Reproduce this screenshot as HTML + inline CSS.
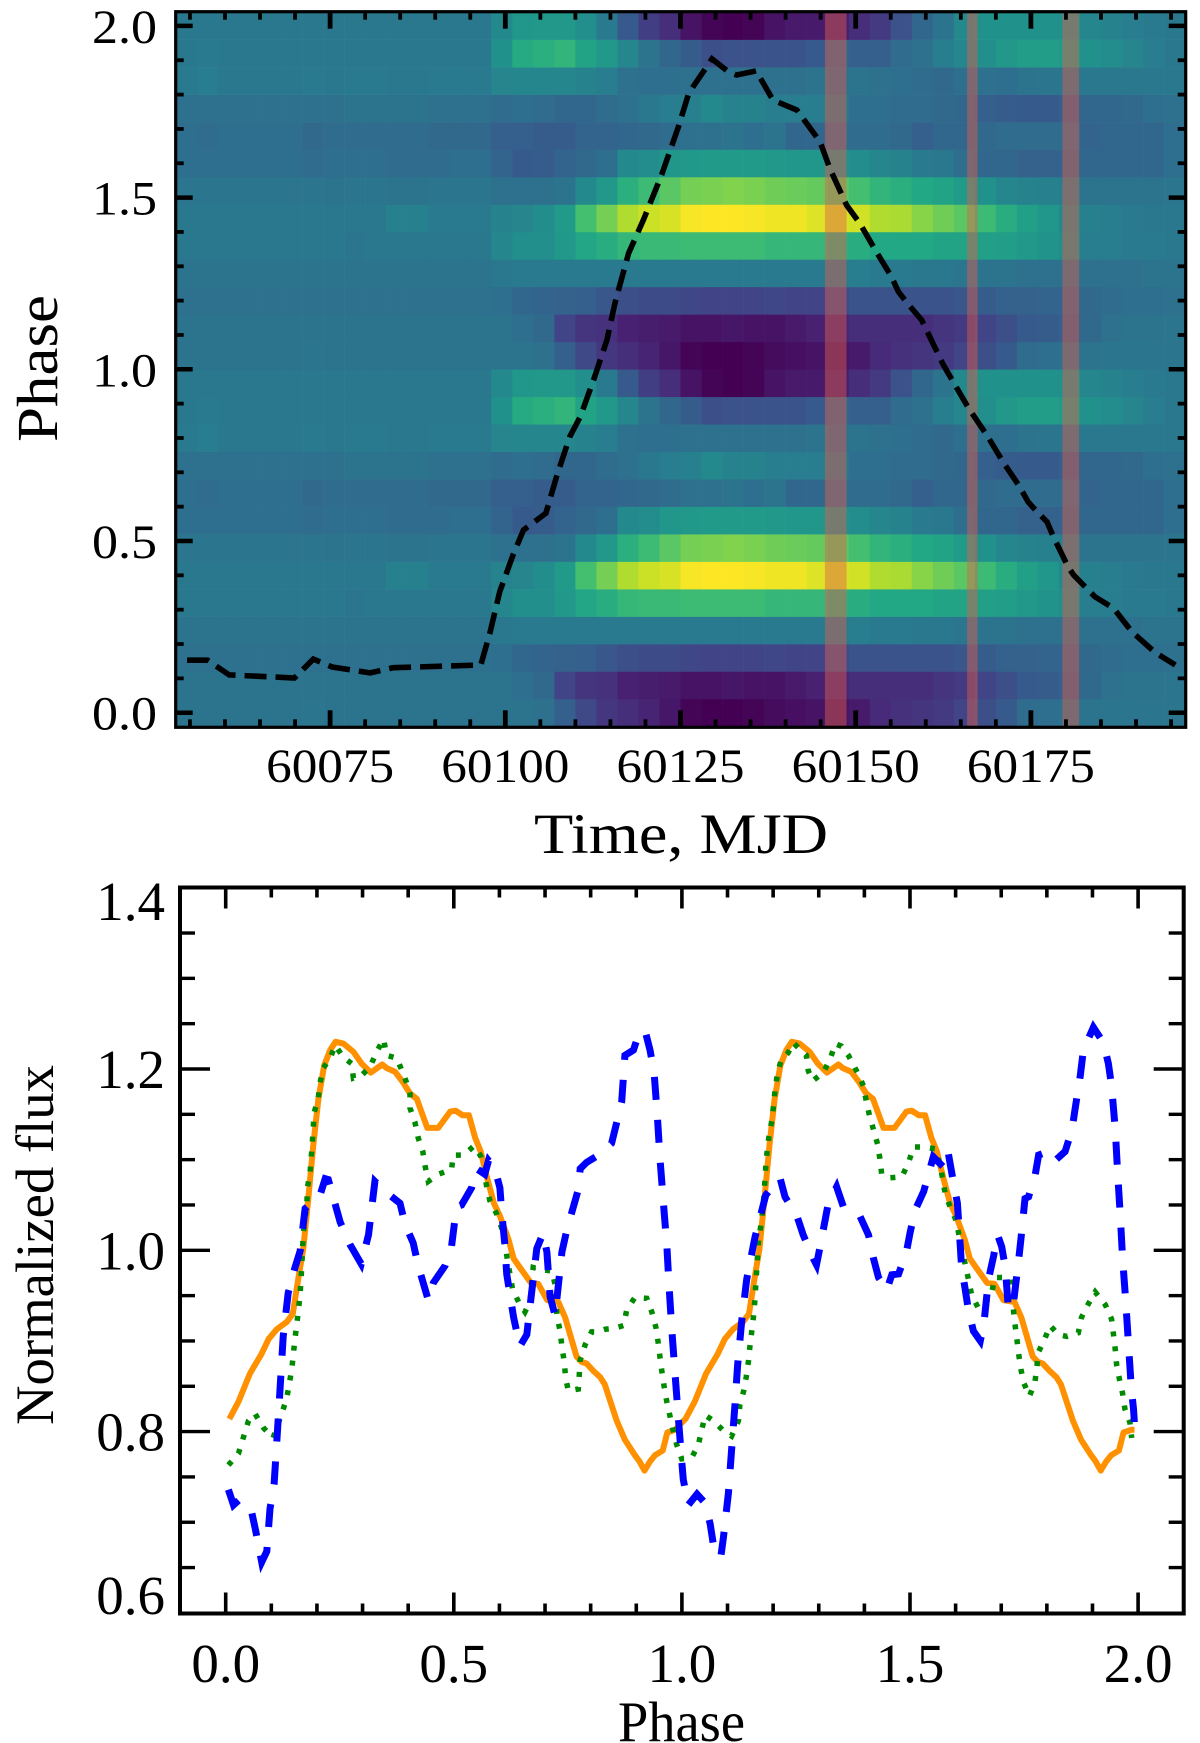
<!DOCTYPE html>
<html lang="en">
<head>
<meta charset="utf-8">
<title>Phase map and pulse profiles</title>
<style>
html,body{margin:0;padding:0;background:#fff;}
svg{display:block;}
text{font-family:"Liberation Serif","DejaVu Serif",serif;fill:#000;}
</style>
</head>
<body>
<svg id="figure" xmlns="http://www.w3.org/2000/svg" width="1200" height="1743" viewBox="0 0 1200 1743">
  <g id="top-panel">
    <g id="heatmap"></g>
    <g id="bands"></g>
    <path id="lightcurve" fill="none" stroke="#000" stroke-width="5.6" stroke-dasharray="22 9" stroke-linejoin="miter"></path>
    <g id="top-ticks"></g>
    <rect x="175.7" y="11.7" width="1010" height="715.6" fill="none" stroke="#000" stroke-width="3.2"></rect>
    <g id="top-labels"></g>
    <text transform="translate(57 442) rotate(-90)" font-size="58" textLength="147" lengthAdjust="spacingAndGlyphs">Phase</text>
    <text x="534" y="853" font-size="57" textLength="294" lengthAdjust="spacingAndGlyphs">Time, MJD</text>
  </g>
  <g id="bottom-panel">
    <path id="orange-line" fill="none" stroke="#ff9000" stroke-width="6" stroke-linejoin="round"></path>
    <path id="green-line" fill="none" stroke="#008a00" stroke-width="5.5" stroke-dasharray="5 10"></path>
    <path id="blue-line" fill="none" stroke="#0000ff" stroke-width="7" stroke-dasharray="23 20" stroke-linejoin="miter"></path>
    <g id="bottom-ticks"></g>
    <rect x="180" y="887.5" width="1003.7" height="726" fill="none" stroke="#000" stroke-width="4"></rect>
    <g id="bottom-labels"></g>
    <text transform="translate(53 1425) rotate(-90)" font-size="54" textLength="360" lengthAdjust="spacingAndGlyphs">Normalized flux</text>
    <text x="618" y="1741" font-size="57" textLength="127" lengthAdjust="spacingAndGlyphs">Phase</text>
  </g>
</svg>
<script>
/* ---------- top panel data ---------- */
const heatmapStartTime = 60053;
const heatmapBinDays = 3;
const heatmapBinPhase = 0.08;
const heatmapValues = [
[.38,.38,.38,.38,.38,.38,.39,.38,.38,.38,.38,.38,.38,.38,.38,.38,.38,.37,.30,.22,.16,.13,.10,.06,.01,0,0,.01,.03,.04,.05,.05,.07,.12,.14,.15,.17,.20,.24,.28,.35,.36,.37,.38,.39,.39,.39,.39],
[.38,.38,.38,.38,.38,.38,.38,.38,.38,.38,.38,.38,.38,.38,.38,.38,.36,.34,.20,.15,.14,.09,.08,.07,.05,.05,.06,.05,.05,.07,.09,.10,.13,.13,.13,.13,.15,.17,.20,.24,.28,.29,.30,.34,.37,.38,.38,.39],
[.37,.37,.37,.37,.37,.37,.37,.37,.37,.37,.37,.37,.37,.37,.37,.36,.33,.32,.31,.30,.27,.24,.23,.23,.21,.20,.20,.20,.21,.20,.20,.23,.26,.25,.26,.26,.26,.27,.29,.31,.31,.32,.32,.34,.35,.36,.36,.37],
[.38,.38,.38,.38,.38,.38,.38,.38,.38,.38,.38,.38,.38,.38,.38,.40,.41,.41,.41,.41,.41,.41,.41,.41,.41,.41,.41,.41,.41,.41,.41,.41,.42,.41,.41,.40,.40,.39,.38,.38,.37,.37,.37,.37,.37,.37,.38,.38],
[.40,.40,.40,.40,.40,.40,.40,.40,.39,.40,.40,.40,.40,.40,.40,.46,.49,.49,.53,.59,.62,.66,.67,.67,.68,.68,.68,.68,.66,.66,.66,.63,.62,.60,.60,.60,.58,.58,.56,.55,.53,.51,.48,.42,.42,.41,.41,.40],
[.40,.40,.40,.40,.40,.40,.40,.40,.40,.40,.43,.43,.41,.41,.41,.44,.45,.48,.54,.70,.79,.88,.92,.94,.99,1,1,.99,.98,.98,.95,.94,.93,.88,.87,.82,.78,.74,.68,.62,.56,.52,.47,.43,.42,.41,.40,.40],
[.39,.39,.39,.39,.39,.39,.39,.38,.39,.39,.38,.38,.39,.39,.39,.37,.37,.37,.38,.47,.53,.63,.68,.74,.79,.80,.81,.80,.78,.77,.76,.74,.70,.65,.63,.60,.58,.54,.50,.46,.44,.43,.42,.38,.38,.38,.38,.39],
[.36,.36,.36,.36,.36,.36,.35,.36,.36,.36,.35,.35,.35,.36,.36,.32,.28,.29,.32,.34,.36,.47,.48,.52,.53,.54,.54,.54,.53,.52,.52,.50,.48,.46,.44,.41,.40,.36,.33,.33,.31,.31,.32,.33,.33,.33,.33,.36],
[.36,.35,.36,.36,.36,.36,.34,.35,.35,.35,.35,.35,.34,.34,.34,.30,.30,.29,.29,.32,.32,.33,.34,.35,.37,.37,.38,.36,.38,.33,.33,.35,.35,.35,.34,.30,.33,.33,.34,.35,.35,.35,.35,.32,.33,.33,.33,.36],
[.37,.37,.37,.37,.37,.37,.37,.37,.38,.38,.38,.38,.37,.37,.37,.35,.36,.35,.33,.33,.35,.37,.40,.42,.43,.47,.44,.44,.42,.42,.42,.40,.36,.36,.35,.35,.34,.33,.30,.29,.28,.28,.30,.33,.33,.34,.36,.37],
[.41,.42,.40,.40,.40,.40,.41,.40,.41,.41,.40,.40,.41,.41,.41,.45,.46,.46,.46,.44,.42,.37,.36,.36,.37,.37,.37,.37,.37,.37,.38,.36,.38,.37,.36,.35,.34,.36,.37,.36,.38,.39,.39,.40,.40,.40,.40,.40],
[.40,.41,.40,.40,.40,.40,.40,.40,.40,.40,.40,.40,.40,.40,.40,.50,.61,.63,.65,.58,.53,.46,.38,.33,.29,.24,.25,.25,.26,.26,.28,.33,.30,.30,.35,.37,.42,.46,.49,.53,.55,.55,.54,.50,.48,.45,.42,.40],
[.40,.40,.40,.40,.40,.40,.40,.40,.40,.40,.40,.40,.40,.40,.40,.47,.52,.53,.53,.49,.41,.28,.18,.13,.05,.01,0,.01,.05,.07,.07,.08,.13,.17,.25,.33,.38,.47,.50,.50,.50,.50,.50,.46,.44,.42,.41,.40]
];
const heatmapRowCount = 26;
const bandStartTimes = [60145.6, 60165.9, 60179.5];
const bandEndTimes = [60148.7, 60167.4, 60181.9];
const lightcurveTimes = [60054.6,60057.5,60060.6,60069.9,60072.6,60075.3,60080.7,60084,60096.5,60097.8,60099.2,60101.1,60102.6,60105.8,60107.3,60109.2,60110.7,60112.6,60114.5,60115.7,60117.6,60119.7,60122.3,60124.7,60126.1,60126.8,60129.5,60131.8,60133,60135.8,60138.2,60141.6,60144.9,60146.3,60148.7,60150.6,60152.8,60155.1,60156.1,60157.3,60159.4,60162.5,60166.1,60168.7,60171,60173.4,60174.6,60176,60177.3,60178.2,60180.3,60181.1,60184.1,60186.8,60189.4,60192.7,60195.6];
const lightcurveLevels = [.153,.153,.110,.101,.156,.133,.116,.131,.139,.232,.352,.459,.532,.581,.687,.804,.862,.969,1.085,1.197,1.338,1.435,1.566,1.706,1.799,1.823,1.904,1.867,1.857,1.869,1.784,1.755,1.663,1.585,1.478,1.425,1.347,1.270,1.226,1.194,1.144,1.013,.887,.809,.731,.658,.614,.582,.556,.513,.425,.401,.338,.304,.236,.176,.139];
const timeTickLabels = ["60075","60100","60125","60150","60175"];
const topPhaseTickLabels = ["0.0","0.5","1.0","1.5","2.0"];

/* ---------- bottom panel data ---------- */
const orangePhase = [.008,.028,.053,.079,.094,.112,.134,.147,.159,.170,.181,.192,.203,.216,.229,.241,.258,.280,.298,.318,.343,.353,.371,.389,.404,.419,.442,.466,.492,.504,.519,.533,.547,.559,.572,.588,.601,.620,.631,.645,.669,.685,.705,.729,.744,.769,.780,.791,.806,.821,.831,.857,.875,.897,.907,.918,.930,.941,.958,.968,.985,1.000,
1.008,1.028,1.053,1.079,1.094,1.112,1.134,1.147,1.159,1.170,1.181,1.192,1.203,1.216,1.229,1.241,1.258,1.280,1.298,1.318,1.343,1.353,1.371,1.389,1.404,1.419,1.442,1.466,1.492,1.504,1.519,1.533,1.547,1.559,1.572,1.588,1.601,1.620,1.631,1.645,1.669,1.685,1.705,1.729,1.744,1.769,1.780,1.791,1.806,1.821,1.831,1.857,1.875,1.897,1.907,1.918,1.930,1.941,1.958,1.968,1.985,1.992];
const orangeFlux = [.814,.833,.864,.886,.902,.913,.921,.930,.968,1.002,1.057,1.116,1.166,1.204,1.221,1.230,1.228,1.219,1.206,1.196,1.205,1.201,1.197,1.185,1.173,1.167,1.135,1.135,1.153,1.154,1.149,1.149,1.124,1.109,1.082,1.052,1.038,1.012,.991,.981,.964,.963,.945,.943,.926,.883,.877,.875,.867,.860,.852,.812,.791,.774,.767,.757,.767,.774,.779,.799,.802,.810,
.814,.833,.864,.886,.902,.913,.921,.930,.968,1.002,1.057,1.116,1.166,1.204,1.221,1.230,1.228,1.219,1.206,1.196,1.205,1.201,1.197,1.185,1.173,1.167,1.135,1.135,1.153,1.154,1.149,1.149,1.124,1.109,1.082,1.052,1.038,1.012,.991,.981,.964,.963,.945,.943,.926,.883,.877,.875,.867,.860,.852,.812,.791,.774,.767,.757,.767,.774,.779,.799,.802,.802];
const greenPhase = [.006,.028,.050,.064,.083,.104,.123,.134,.145,.152,.156,.163,.167,.170,.178,.179,.185,.190,.194,.203,.207,.214,.229,.240,.258,.276,.280,.298,.316,.331,.346,.353,.375,.393,.404,.404,.415,.422,.432,.437,.444,.466,.495,.499,.521,.544,.559,.572,.579,.594,.606,.612,.617,.623,.629,.642,.656,.667,.674,.689,.715,.722,.726,.733,.737,.742,.745,.751,.773,.775,.777,.788,.802,.813,.832,.853,.872,.879,.897,.923,.934,.943,.948,.952,.956,.961,.967,.974,.981,.989,.9996,
1.021,1.036,1.043,1.051,1.069,1.091,1.109,1.124,1.127,1.135,1.141,1.146,1.149,1.153,1.157,1.160,1.164,1.168,1.173,1.177,1.180,1.184,1.187,1.191,1.197,1.201,1.204,1.209,1.217,1.233,1.244,1.273,1.277,1.287,1.310,1.325,1.336,1.350,1.365,1.387,1.398,1.404,1.411,1.420,1.429,1.434,1.438,1.456,1.482,1.497,1.508,1.529,1.555,1.566,1.577,1.588,1.602,1.613,1.621,1.628,1.635,1.650,1.664,1.679,1.686,1.719,1.726,1.730,1.734,1.738,1.743,1.749,1.762,1.774,1.778,1.782,1.796,1.807,1.825,1.844,1.869,1.876,1.891,1.906,1.928,1.942,1.946,1.950,1.953,1.959,1.966,1.971,1.982,1.986];
const greenFlux = [.763,.776,.812,.820,.804,.793,.820,.837,.869,.903,.919,.951,.985,1.019,1.052,1.069,1.086,1.120,1.152,1.168,1.185,1.201,1.212,1.226,1.213,1.206,1.190,1.193,1.202,1.219,1.233,1.215,1.212,1.190,1.173,1.157,1.141,1.124,1.109,1.093,1.076,1.084,1.089,1.105,1.105,1.115,1.104,1.071,1.055,1.040,1.023,1.008,.991,.974,.957,.943,.932,.943,.981,.979,.977,.962,.928,.911,.894,.877,.860,.845,.847,.863,.879,.896,.910,.910,.913,.914,.917,.934,.948,.947,.932,.915,.898,.882,.867,.850,.833,.817,.801,.785,.770,
.771,.785,.801,.818,.812,.801,.795,.812,.829,.844,.860,.878,.894,.910,.927,.945,.978,1.011,1.027,1.044,1.061,1.093,1.110,1.126,1.143,1.160,1.176,1.193,1.209,1.218,1.229,1.215,1.198,1.187,1.196,1.211,1.228,1.225,1.215,1.194,1.181,1.165,1.149,1.133,1.117,1.101,1.084,1.080,1.081,1.097,1.114,1.114,1.112,1.095,1.063,1.048,1.032,1.000,.985,.968,.951,.936,.941,.953,.970,.970,.938,.919,.903,.886,.869,.854,.839,.855,.871,.888,.903,.917,.907,.905,.909,.926,.941,.954,.940,.924,.907,.890,.873,.858,.842,.825,.810,.793];
const bluePhase = [.006,.017,.030,.057,.066,.079,.090,.097,.106,.112,.118,.126,.137,.152,.163,.174,.207,.218,.225,.251,.273,.297,.313,.327,.349,.382,.393,.411,.422,.444,.455,.481,.495,.506,.517,.539,.550,.568,.576,.590,.601,.605,.612,.616,.631,.645,.660,.671,.682,.696,.704,.711,.722,.737,.748,.773,.777,.791,.817,.846,.857,.868,.875,.894,.901,.919,.930,.939,.946,.952,.959,.967,.972,.978,.985,.992,.9995,
1.003,1.014,1.033,1.051,1.062,1.069,1.085,1.091,1.102,1.109,1.116,1.122,1.131,1.142,1.160,1.184,1.215,1.226,1.252,1.266,1.288,1.295,1.303,1.321,1.339,1.354,1.390,1.409,1.420,1.431,1.449,1.460,1.475,1.492,1.500,1.511,1.530,1.551,1.577,1.584,1.595,1.604,1.610,1.613,1.621,1.628,1.639,1.654,1.662,1.672,1.683,1.692,1.701,1.709,1.716,1.727,1.738,1.743,1.752,1.760,1.774,1.782,1.803,1.818,1.840,1.855,1.862,1.873,1.880,1.902,1.924,1.935,1.942,1.950,1.955,1.961,1.966,1.973,1.979,1.985,1.990,1.994];
const blueFlux = [.736,.719,.725,.711,.690,.656,.668,.715,.742,.789,.837,.905,.953,.981,.999,1.046,1.061,1.079,1.078,1.031,1.006,.985,1.017,1.076,1.065,1.052,1.029,1.008,.983,.945,.964,.983,1.004,1.048,1.050,1.069,1.090,1.084,1.099,1.090,1.069,1.042,1.006,.974,.926,.894,.907,.955,1.002,1.019,.998,.949,.928,.998,1.023,1.067,1.090,1.097,1.105,1.118,1.141,1.164,1.215,1.221,1.232,1.243,1.221,1.196,1.149,1.101,1.055,1.006,.960,.911,.863,.816,.768,
.747,.719,.731,.721,.698,.675,.661,.683,.732,.780,.827,.873,.922,.968,1.014,1.061,1.080,1.059,1.038,1.017,.991,.984,1.004,1.052,1.070,1.048,1.038,1.017,.991,.970,.956,.973,.974,.998,1.019,1.044,1.065,1.103,1.090,1.107,1.076,1.052,1.006,.981,.957,.934,.911,.900,.919,.968,.993,1.017,1.004,.981,.934,.943,.989,1.012,1.057,1.059,1.082,1.105,1.109,1.099,1.109,1.133,1.156,1.192,1.221,1.246,1.229,1.206,1.181,1.133,1.086,1.038,.991,.943,.896,.848,.825,.793];
const phaseTickLabels = ["0.0","0.5","1.0","1.5","2.0"];
const fluxTickLabels = ["0.6","0.8","1.0","1.2","1.4"];

/* ---------- colour map (viridis) ---------- */
const viridisStops = ["#440154","#482475","#414487","#355f8d","#2a788e","#21918c","#22a884","#44bf70","#7ad151","#bddf26","#fde725"];

/* ---------- axis functions ---------- */
const SVG_NS = "http://www.w3.org/2000/svg";
function timeX(t){ return 505.3 + (t - 60100) * 7.008; }
function topPhaseY(p){ return 712.7 - p * 343.4; }
function phaseX(p){ return 225.7 + p * 456.2; }
function fluxY(f){ return 1250.3 - (f - 1) * 906.5; }

function hexToRgb(h){ return [parseInt(h.slice(1,3),16),parseInt(h.slice(3,5),16),parseInt(h.slice(5,7),16)]; }
function viridis(v){
  const s = Math.max(0, Math.min(1, v)) * (viridisStops.length - 1);
  const i = Math.min(Math.floor(s), viridisStops.length - 2);
  const a = hexToRgb(viridisStops[i]), b = hexToRgb(viridisStops[i + 1]), u = s - i;
  return "rgb(" + a.map((c, k) => Math.round(c + (b[k] - c) * u)).join(",") + ")";
}
function linePath(xs, ys, fx, fy){
  return xs.map((x, i) => (i ? "L" : "M") + fx(x).toFixed(1) + " " + fy(ys[i]).toFixed(1)).join("");
}
function makeLine(parent, x1, y1, x2, y2, w){
  const el = document.createElementNS(SVG_NS, "line");
  el.setAttribute("x1", x1); el.setAttribute("y1", y1);
  el.setAttribute("x2", x2); el.setAttribute("y2", y2);
  el.setAttribute("stroke", "#000"); el.setAttribute("stroke-width", w);
  
  
  parent.appendChild(el);
}
function makeLabel(parent, text, x, y, size, anchor, len){
  const el = document.createElementNS(SVG_NS, "text");
  el.setAttribute("x", x); el.setAttribute("y", y);
  el.setAttribute("font-size", size); el.setAttribute("text-anchor", anchor);
  if (len) { el.setAttribute("textLength", len); el.setAttribute("lengthAdjust", "spacingAndGlyphs"); }
  el.textContent = text;
  
  
  parent.appendChild(el);
}

/* ---------- heatmap ---------- */
const heatmapGroup = document.getElementById("heatmap");
for (let k = 0; k < heatmapRowCount; k++) {
  const values = heatmapValues[k % heatmapValues.length];
  const yTop = topPhaseY((k + 0.5) * heatmapBinPhase);
  const yBot = topPhaseY((k - 0.5) * heatmapBinPhase);
  values.forEach((v, c) => {
    const x0 = timeX(heatmapStartTime + c * heatmapBinDays);
    const x1 = timeX(heatmapStartTime + (c + 1) * heatmapBinDays);
    const cell = document.createElementNS(SVG_NS, "rect");
    cell.setAttribute("x", x0.toFixed(2));
    cell.setAttribute("y", Math.max(yTop, 11.7).toFixed(2));
    cell.setAttribute("width", (x1 - x0 + 0.3).toFixed(2));
    cell.setAttribute("height", (Math.min(yBot, 727.3) - Math.max(yTop, 11.7) + 0.3).toFixed(2));
    cell.setAttribute("fill", viridis(v));
    
    
    heatmapGroup.appendChild(cell);
  });
}

/* ---------- highlight bands ---------- */
const bandGroup = document.getElementById("bands");
bandStartTimes.forEach((t, i) => {
  const band = document.createElementNS(SVG_NS, "rect");
  band.setAttribute("x", timeX(t).toFixed(1));
  band.setAttribute("y", 11.7);
  band.setAttribute("width", (timeX(bandEndTimes[i]) - timeX(t)).toFixed(1));
  band.setAttribute("height", 715.6);
  band.setAttribute("fill", "rgb(225,95,75)");
  band.setAttribute("fill-opacity", "0.45");
  
  
  bandGroup.appendChild(band);
});

/* ---------- lines ---------- */
document.getElementById("lightcurve").setAttribute("d", linePath(lightcurveTimes, lightcurveLevels, timeX, topPhaseY));
document.getElementById("orange-line").setAttribute("d", linePath(orangePhase, orangeFlux, phaseX, fluxY));
document.getElementById("green-line").setAttribute("d", linePath(greenPhase, greenFlux, phaseX, fluxY));
document.getElementById("blue-line").setAttribute("d", linePath(bluePhase, blueFlux, phaseX, fluxY));

/* ---------- top panel ticks and labels ---------- */
const topTicks = document.getElementById("top-ticks");
for (let d = 0; d <= 28; d++) {
  const x = timeX(60055 + d * 5), major = d % 5 === 4;
  const h = major ? 17 : 8, w = major ? 4.8 : 3.8;
  makeLine(topTicks, x, 11.7, x, 11.7 + h, w);
  makeLine(topTicks, x, 727.3, x, 727.3 - h, w);
}
for (let d = 0; d <= 20; d++) {
  const y = topPhaseY(d * 0.1), major = d % 5 === 0;
  const h = major ? 17 : 8, w = major ? 4.5 : 3.8;
  makeLine(topTicks, 175.7, y, 175.7 + h, y, w);
  makeLine(topTicks, 1185.7, y, 1185.7 - h, y, w);
}
const topLabels = document.getElementById("top-labels");
timeTickLabels.forEach(s => makeLabel(topLabels, s, timeX(+s), 782, 47.5, "middle", 128));
topPhaseTickLabels.forEach(s => makeLabel(topLabels, s, 157, topPhaseY(+s) + 17, 47.5, "end", 65));

/* ---------- bottom panel ticks and labels ---------- */
const bottomTicks = document.getElementById("bottom-ticks");
for (let d = 0; d <= 20; d++) {
  const x = phaseX(d * 0.1), major = d % 5 === 0;
  const h = major ? 21 : 10;
  makeLine(bottomTicks, x, 887.5, x, 887.5 + h, 3.6);
  makeLine(bottomTicks, x, 1613.5, x, 1613.5 - h, 3.6);
}
for (let d = 1; d < 16; d++) {
  const y = fluxY(0.6 + d * 0.05), major = d % 4 === 0;
  const h = major ? 30 : 15;
  makeLine(bottomTicks, 180, y, 180 + h, y, 3.4);
  makeLine(bottomTicks, 1183.7, y, 1183.7 - h, y, 3.4);
}
const bottomLabels = document.getElementById("bottom-labels");
phaseTickLabels.forEach(s => makeLabel(bottomLabels, s, phaseX(+s), 1682, 55, "middle"));
fluxTickLabels.forEach(s => {
  const base = Math.min(1614, Math.max(920, fluxY(+s) + 19));
  makeLabel(bottomLabels, s, 165, base, 55, "end");
});
</script>
</body>
</html>
